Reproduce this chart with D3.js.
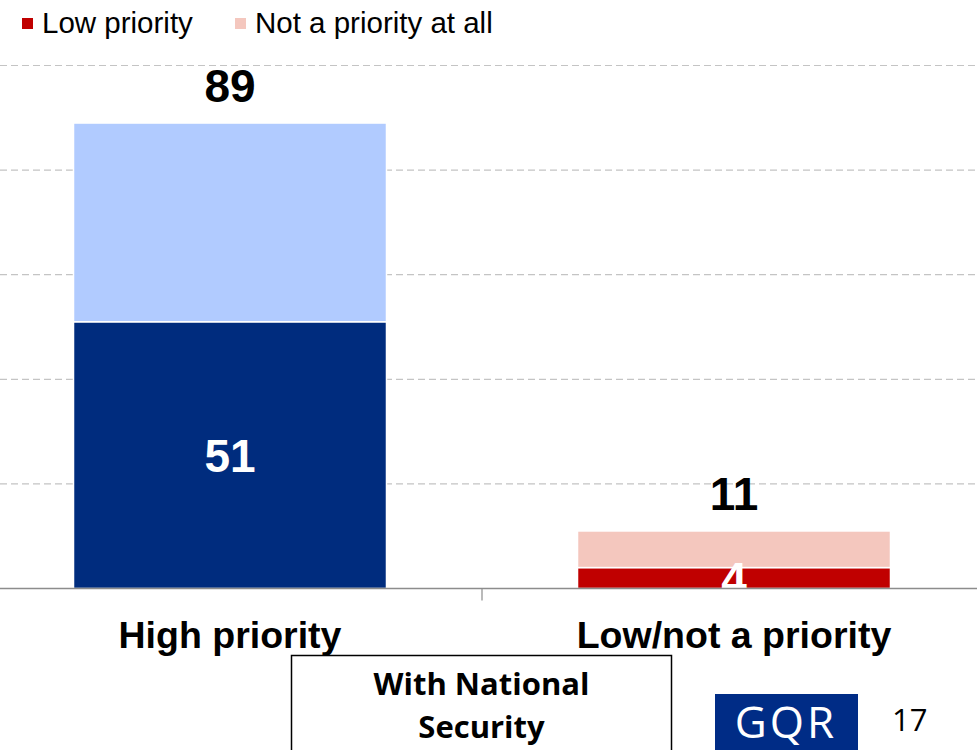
<!DOCTYPE html>
<html>
<head>
<meta charset="utf-8">
<script src="https://cdn.jsdelivr.net/npm/d3@7/dist/d3.min.js"></script>
<style>
  html, body { margin: 0; padding: 0; background: #fff; overflow: hidden; }
  svg { display: block; }
</style>
</head>
<body>
<script>
// ---- data ----
const categories = ["High priority", "Low/not a priority"];
const bottomValues = [51, 4];   // High priority strongly / Low priority
const topValues = [38, 7];      // High priority somewhat / Not a priority at all
const totals = [89, 11];
const yTicks = [0, 20, 40, 60, 80, 100];
const legendItems = ["Low priority", "Not a priority at all"];
const bottomColors = ["#002C7E", "#C00000"];
const topColors = ["#B1CBFF", "#F4C7BE"];
const legendColors = ["#C00000", "#F4C7BE"];
const boxLines = ["With National", "Security"];
const pageNumber = "17";

const W = 977, H = 750;
const svg = d3.select("body").append("svg").attr("width", W).attr("height", H);

const x = d3.scaleBand().domain(categories).range([-22, 986])
  .paddingInner(0.379).paddingOuter(0.1895);
const y = d3.scaleLinear().domain([0, 100]).range([588.5, 65.5]);

// gridlines
svg.append("g").selectAll("line").data(yTicks.filter(d => d > 0)).join("line")
  .attr("x1", 0).attr("x2", W)
  .attr("y1", d => y(d)).attr("y2", d => y(d))
  .attr("stroke", "#C4C4C4").attr("stroke-width", 1.2)
  .attr("stroke-dasharray", "7,4");

// clip
svg.append("clipPath").attr("id", "plotclip").append("rect")
  .attr("x", 0).attr("y", 0).attr("width", W).attr("height", 590);

const plot = svg.append("g").attr("clip-path", "url(#plotclip)");

const rows = categories.map((c, i) => ({ c, i, b: bottomValues[i], t: topValues[i], tot: totals[i] }));

// bottom segments
plot.selectAll("rect.bot").data(rows).join("rect").attr("class", "bot")
  .attr("x", d => x(d.c)).attr("width", x.bandwidth())
  .attr("y", d => y(d.b)).attr("height", d => y(0) - y(d.b))
  .attr("fill", d => bottomColors[d.i])
  .attr("stroke", "#fff").attr("stroke-width", 1.5);

// top segments
plot.selectAll("rect.top").data(rows).join("rect").attr("class", "top")
  .attr("x", d => x(d.c)).attr("width", x.bandwidth())
  .attr("y", d => y(d.b + d.t)).attr("height", d => y(d.b) - y(d.b + d.t))
  .attr("fill", d => topColors[d.i])
  .attr("stroke", "#fff").attr("stroke-width", 1.5);

// inner labels (white)
plot.selectAll("text.inner").data(rows).join("text").attr("class", "inner")
  .attr("x", d => x(d.c) + x.bandwidth() / 2)
  .attr("y", d => (y(0) + y(d.b)) / 2)
  .attr("dy", "0.36em")
  .attr("text-anchor", "middle")
  .attr("font-family", "Liberation Sans, Arial, sans-serif")
  .attr("font-weight", "bold").attr("font-size", 46)
  .attr("fill", "#fff")
  .text(d => d.b);

// axis baseline
svg.append("line").attr("x1", 0).attr("x2", W).attr("y1", y(0)).attr("y2", y(0))
  .attr("stroke", "#8C8C8C").attr("stroke-width", 1.5);
// center tick
svg.append("line").attr("x1", 482).attr("x2", 482).attr("y1", y(0)).attr("y2", y(0) + 12)
  .attr("stroke", "#8C8C8C").attr("stroke-width", 1.2);

// totals
svg.selectAll("text.total").data(rows).join("text").attr("class", "total")
  .attr("x", d => x(d.c) + x.bandwidth() / 2)
  .attr("y", d => y(d.tot) - 21)
  .attr("text-anchor", "middle")
  .attr("font-family", "Liberation Sans, Arial, sans-serif")
  .attr("font-weight", "bold").attr("font-size", 46)
  .attr("fill", "#000")
  .text(d => d.tot);

// category labels
svg.selectAll("text.cat").data(rows).join("text").attr("class", "cat")
  .attr("x", d => x(d.c) + x.bandwidth() / 2)
  .attr("y", 648)
  .attr("text-anchor", "middle")
  .attr("font-family", "Liberation Sans, Arial, sans-serif")
  .attr("font-weight", "bold").attr("font-size", 37.5)
  .attr("fill", "#000")
  .text(d => d.c);

// legend
const legendX = [22, 235];
const lg = svg.append("g");
legendItems.forEach((t, i) => {
  lg.append("rect").attr("x", legendX[i]).attr("y", 18).attr("width", 11).attr("height", 11)
    .attr("fill", legendColors[i]);
  lg.append("text").attr("x", legendX[i] + 20).attr("y", 33)
    .attr("font-family", "Liberation Sans, Arial, sans-serif")
    .attr("font-size", 29.5).attr("fill", "#000").text(t);
});

// box
svg.append("rect").attr("x", 291.5).attr("y", 655.5).attr("width", 380).attr("height", 110)
  .attr("fill", "#fff").attr("stroke", "#000").attr("stroke-width", 1.5);
boxLines.forEach((t, i) => {
  svg.append("text").attr("x", 481.5).attr("y", 695 + i * 43)
    .attr("text-anchor", "middle")
    .attr("font-family", "Open Sans, sans-serif").attr("font-weight", "bold")
    .attr("font-size", 31).attr("fill", "#000").text(t);
});

// logo
svg.append("rect").attr("x", 715).attr("y", 694).attr("width", 143).attr("height", 60)
  .attr("fill", "#002C86");
svg.append("text").attr("x", 786).attr("y", 738).attr("text-anchor", "middle")
  .attr("font-family", "Open Sans, sans-serif").attr("font-size", 44)
  .attr("letter-spacing", 3)
  .attr("fill", "#fff").text("GQR");

// page number
svg.append("text").attr("x", 892).attr("y", 731)
  .attr("font-family", "Open Sans, sans-serif").attr("font-size", 31)
  .attr("fill", "#000").text(pageNumber);
</script>
</body>
</html>
